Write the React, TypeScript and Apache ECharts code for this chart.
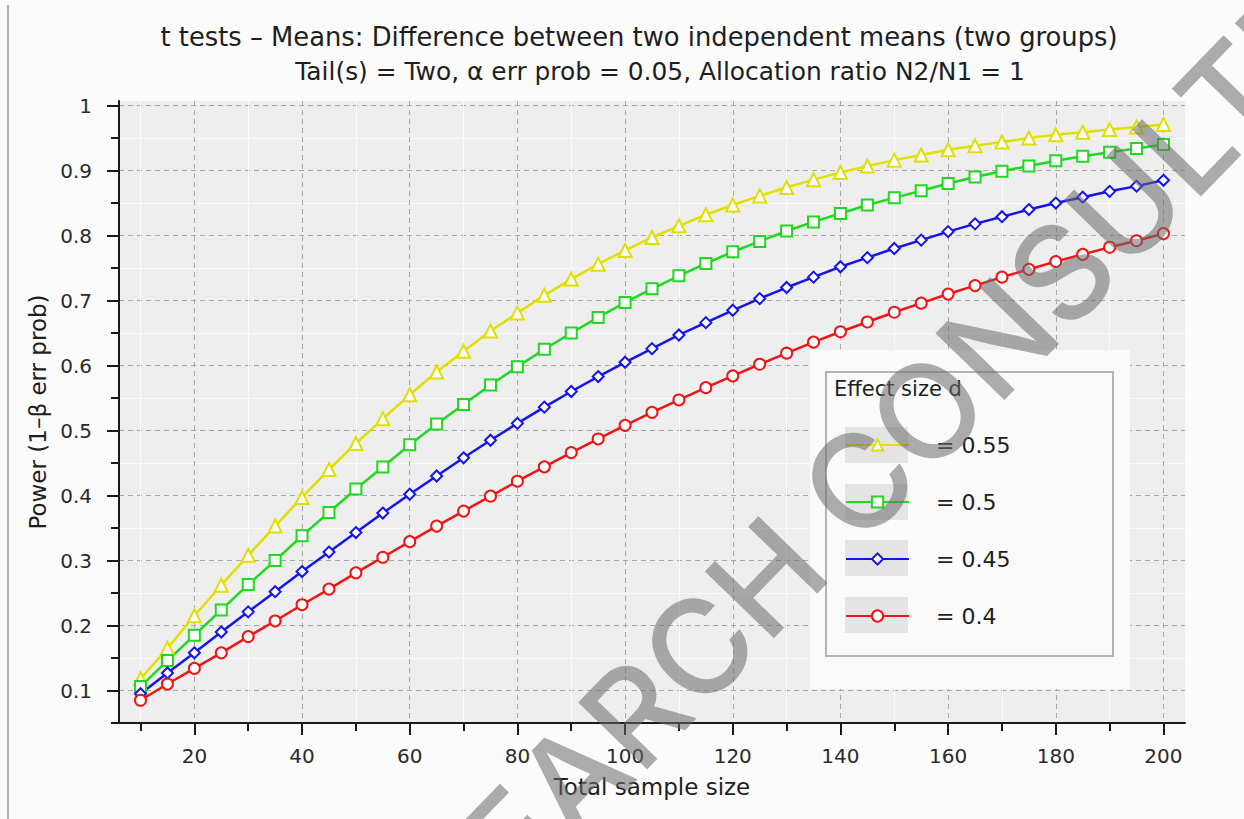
import React, { useEffect, useRef } from "react";
import * as echarts from "echarts";

const sampleSizes = [10, 15, 20, 25, 30, 35, 40, 45, 50, 55, 60, 65, 70, 75, 80, 85, 90, 95, 100, 105, 110, 115, 120, 125, 130, 135, 140, 145, 150, 155, 160, 165, 170, 175, 180, 185, 190, 195, 200];

const power055 = [0.118, 0.165, 0.215, 0.262, 0.308, 0.353, 0.397, 0.44, 0.48, 0.518, 0.555, 0.59, 0.622, 0.653, 0.681, 0.708, 0.733, 0.756, 0.777, 0.797, 0.815, 0.832, 0.847, 0.861, 0.874, 0.886, 0.897, 0.907, 0.916, 0.924, 0.932, 0.938, 0.944, 0.95, 0.955, 0.959, 0.963, 0.967, 0.971];
const power050 = [0.106, 0.146, 0.185, 0.224, 0.263, 0.3, 0.338, 0.374, 0.41, 0.444, 0.478, 0.51, 0.54, 0.57, 0.598, 0.625, 0.65, 0.674, 0.697, 0.718, 0.738, 0.757, 0.775, 0.791, 0.807, 0.821, 0.834, 0.847, 0.858, 0.869, 0.88, 0.89, 0.899, 0.907, 0.915, 0.922, 0.928, 0.934, 0.94];
const power045 = [0.095, 0.127, 0.158, 0.19, 0.221, 0.252, 0.283, 0.313, 0.343, 0.373, 0.402, 0.43, 0.458, 0.485, 0.511, 0.536, 0.56, 0.583, 0.605, 0.626, 0.647, 0.666, 0.685, 0.703, 0.72, 0.736, 0.752, 0.766, 0.78, 0.793, 0.806, 0.818, 0.829, 0.84, 0.85, 0.859, 0.868, 0.876, 0.885];
const power040 = [0.085, 0.11, 0.134, 0.158, 0.183, 0.207, 0.232, 0.256, 0.281, 0.305, 0.329, 0.353, 0.376, 0.399, 0.422, 0.444, 0.466, 0.487, 0.508, 0.528, 0.547, 0.566, 0.584, 0.602, 0.619, 0.636, 0.652, 0.667, 0.682, 0.696, 0.71, 0.723, 0.736, 0.748, 0.76, 0.771, 0.782, 0.792, 0.803];

const seriesNames = ["= 0.55", "= 0.5", "= 0.45", "= 0.4"];
const seriesColors = ["#e0e000", "#1fd81f", "#1414ee", "#f01414"];
const seriesSymbols = ["emptyTriangle", "emptyRect", "emptyDiamond", "emptyCircle"];
const seriesData = [power055, power050, power045, power040];

const xMajorTicks = [20, 40, 60, 80, 100, 120, 140, 160, 180, 200];
const xMinorTicks = [10, 30, 50, 70, 90, 110, 130, 150, 170, 190];
const yMajorTicks = [0.1, 0.2, 0.3, 0.4, 0.5, 0.6, 0.7, 0.8, 0.9, 1];
const yMinorTicks = [0.05, 0.15, 0.25, 0.35, 0.45, 0.55, 0.65, 0.75, 0.85, 0.95];

const titleText = "t tests \u2013 Means: Difference between two independent means (two groups)";
const subtitleText = "Tail(s) = Two, \u03b1 err prob = 0.05, Allocation ratio N2/N1 = 1";
const xAxisName = "Total sample size";
const yAxisName = "Power (1\u2013\u03b2 err prob)";
const legendTitle = "Effect size d";
const watermark = "RESEARCH CONSULTING";

const FONT = "DejaVu Sans";

export default function App() {
  const ref = useRef<HTMLDivElement>(null);
  useEffect(() => {
    if (!ref.current) return;
    const chart = echarts.init(ref.current, null, { renderer: "svg" });
    const grid = { left: 119, right: 59, top: 101, bottom: 96 };
    const axisLineStyle = { color: "#1a1a1a", width: 2 };
    const option: any = {
      animation: false,
      backgroundColor: "#fbfbfb",
      title: [
        {
          text: titleText,
          left: 634,
          textAlign: "center",
          top: 19,
          textStyle: { fontFamily: FONT, fontSize: 25.8, fontWeight: "normal", color: "#1e1e1e" },
        },
        {
          text: subtitleText,
          left: 655,
          textAlign: "center",
          top: 54,
          textStyle: { fontFamily: FONT, fontSize: 24.9, fontWeight: "normal", color: "#1e1e1e" },
        },
      ],
      grid: { ...grid, backgroundColor: "#eeeeee", show: true, borderWidth: 0 },
      xAxis: [
        {
          type: "value",
          min: 6,
          max: 204,
          position: "bottom",
          name: xAxisName,
          nameLocation: "middle",
          nameGap: 52,
          nameTextStyle: { fontFamily: FONT, fontSize: 23, color: "#1e1e1e" },
          axisLine: { show: true, onZero: false, lineStyle: axisLineStyle },
          axisTick: { show: true, customValues: xMajorTicks, length: 12, lineStyle: axisLineStyle },
          axisLabel: { customValues: xMajorTicks, fontFamily: FONT, fontSize: 20, color: "#2a2a2a", margin: 23 },
          splitLine: { show: true, lineStyle: { color: "#a8a8a8", type: [5, 4], width: 1 } },
        },
        {
          type: "value",
          min: 6,
          max: 204,
          position: "bottom",
          axisLine: { show: false, onZero: false },
          axisTick: { show: true, customValues: xMinorTicks, length: 8, lineStyle: axisLineStyle },
          axisLabel: { show: false },
          splitLine: { show: true, lineStyle: { color: "#fafafa", width: 1 } },
        },
      ],
      yAxis: [
        {
          type: "value",
          min: 0.05,
          max: 1.007,
          position: "left",
          name: yAxisName,
          nameLocation: "middle",
          nameGap: 70,
          nameRotate: 90,
          nameTextStyle: { fontFamily: FONT, fontSize: 23, color: "#1e1e1e" },
          axisLine: { show: true, onZero: false, lineStyle: axisLineStyle },
          axisTick: { show: true, customValues: yMajorTicks, length: 12, lineStyle: axisLineStyle },
          axisLabel: {
            customValues: yMajorTicks,
            fontFamily: FONT,
            fontSize: 20,
            color: "#2a2a2a",
            margin: 27,
            formatter: (v: number) => String(Math.round(v * 10) / 10),
          },
          splitLine: { show: true, lineStyle: { color: "#a8a8a8", type: [5, 4], width: 1 } },
        },
        {
          type: "value",
          min: 0.05,
          max: 1.007,
          position: "left",
          axisLine: { show: false, onZero: false },
          axisTick: { show: true, customValues: yMinorTicks, length: 8, lineStyle: axisLineStyle },
          axisLabel: { show: false },
          splitLine: { show: true, lineStyle: { color: "#fafafa", width: 1 } },
        },
      ],
      legend: {
        data: seriesNames,
        orient: "vertical",
        left: 840,
        top: 429,
        itemWidth: 63,
        itemHeight: 14,
        itemGap: 35,
        z: 6,
        textStyle: { fontFamily: FONT, fontSize: 22, color: "#1e1e1e", padding: [0, 0, 0, 22] },
      },
      graphic: [
        { type: "line", shape: { x1: 8, y1: 5, x2: 8, y2: 819 }, style: { stroke: "#b0b0b0", lineWidth: 2 }, z: 3 },
        { type: "rect", shape: { x: 810, y: 350, width: 320, height: 339 }, style: { fill: "#fafafa" }, z: 3 },
        { type: "rect", shape: { x: 826, y: 372, width: 287, height: 284 }, style: { fill: "#fafafa", stroke: "#b4b4b4", lineWidth: 2 }, z: 3 },
        { type: "text", x: 834, y: 389, style: { text: legendTitle, fontFamily: FONT, fontSize: 21, fill: "#1e1e1e", textVerticalAlign: "middle" }, z: 4 },
        { type: "rect", shape: { x: 845, y: 427, width: 63, height: 36 }, style: { fill: "#e4e4e4" }, z: 4 },
        { type: "rect", shape: { x: 845, y: 484, width: 63, height: 36 }, style: { fill: "#e4e4e4" }, z: 4 },
        { type: "rect", shape: { x: 845, y: 540, width: 63, height: 36 }, style: { fill: "#e4e4e4" }, z: 4 },
        { type: "rect", shape: { x: 845, y: 597, width: 63, height: 36 }, style: { fill: "#e4e4e4" }, z: 4 },
        {
          type: "text",
          x: 868,
          y: 472,
          rotation: (46 * Math.PI) / 180,
          silent: true,
          z: 100,
          style: {
            text: watermark,
            fontFamily: "Inter",
            fontSize: 132,
            fontWeight: 500,
            fill: "rgba(105,105,105,0.55)",
            textAlign: "center",
            textVerticalAlign: "middle",
          },
        },
      ],
      series: seriesNames.map((name, i) => ({
        name,
        type: "line",
        xAxisIndex: 0,
        yAxisIndex: 0,
        data: sampleSizes.map((x, j) => [x, seriesData[i][j]]),
        symbol: seriesSymbols[i],
        symbolSize: seriesSymbols[i] === "emptyTriangle" ? 13 : 11,
        lineStyle: { color: seriesColors[i], width: 2.5 },
        itemStyle: { color: seriesColors[i], borderWidth: 2.5 },
        z: 2,
      })),
    };
    chart.setOption(option);
    return () => chart.dispose();
  }, []);
  return <div ref={ref} style={{ position: "absolute", left: 0, top: 0, width: 1244, height: 819 }} />;
}
